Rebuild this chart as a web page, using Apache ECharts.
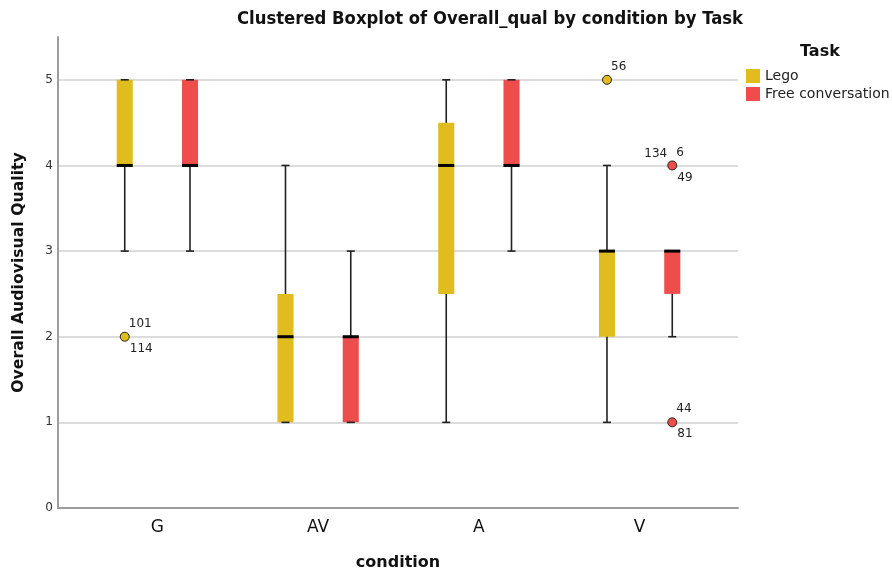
<!DOCTYPE html>
<html><head><meta charset="utf-8">
<script src="https://cdn.jsdelivr.net/npm/echarts@6/dist/echarts.min.js"></script>
<style>html,body{margin:0;padding:0;background:#fff}#c{width:892px;height:572px}</style>
</head><body><div id="c"></div>
<script>
const categories = ['G', 'AV', 'A', 'V'];
const seriesNames = ['Lego', 'Free conversation'];
// [min, Q1, median, Q3, max] per condition
const legoBoxes = [[3, 4, 4, 5, 5], [1, 1, 2, 2.5, 4], [1, 2.5, 4, 4.5, 5], [1, 2, 3, 3, 4]];
const freeBoxes = [[3, 4, 4, 5, 5], [1, 1, 2, 2, 3], [3, 4, 4, 5, 5], [2, 2.5, 3, 3, 3]];
// outliers: [condition index, value]
const legoOutliers = [[0, 2], [3, 5]];
const legoOutlierIds = [['101', '114'], ['56']];
const freeOutliers = [[3, 4], [3, 1]];
const freeOutlierIds = [['6', '49', '134'], ['44', '81']];
const yTicks = [0, 1, 2, 3, 4, 5];

const COLORS = ['#E1BC1F', '#EF4C4C'];
const FONT = 'DejaVu Sans';
const SHIFT = 0.203; // fraction of band between cluster centre and box centre

function boxRender(side) {
  return function (params, api) {
    const cat = api.value(0);
    const bw = api.size([1, 0])[0];
    const boxW = bw * 0.1;
    const capW = bw * 0.05;
    const pt = k => api.coord([cat, api.value(k)]);
    const x = pt(1)[0] + side * bw * SHIFT;
    const yMin = pt(1)[1], yQ1 = pt(2)[1], yMed = pt(3)[1], yQ3 = pt(4)[1], yMax = pt(5)[1];
    const color = api.visual('color');
    return {
      type: 'group', children: [
        { type: 'line', shape: { x1: x, y1: yMin, x2: x, y2: yMax }, style: { stroke: '#222', lineWidth: 1.6 } },
        { type: 'rect', shape: { x: x - boxW / 2, y: yQ3, width: boxW, height: yQ1 - yQ3 }, style: { fill: color } },
        { type: 'line', shape: { x1: x - capW / 2, y1: yMin, x2: x + capW / 2, y2: yMin }, style: { stroke: '#222', lineWidth: 1.6 } },
        { type: 'line', shape: { x1: x - capW / 2, y1: yMax, x2: x + capW / 2, y2: yMax }, style: { stroke: '#222', lineWidth: 1.6 } },
        { type: 'line', shape: { x1: x - boxW / 2, y1: yMed, x2: x + boxW / 2, y2: yMed }, style: { stroke: '#000', lineWidth: 3 } }
      ]
    };
  };
}

function outlierRender(side, ids) {
  return function (params, api) {
    const cat = api.value(0);
    const bw = api.size([1, 0])[0];
    const p = api.coord([cat, api.value(1)]);
    const x = p[0] + side * bw * SHIFT, y = p[1];
    const color = api.visual('color');
    const labels = ids[params.dataIndex] || [];
    const ts = { fontFamily: FONT, fontSize: 12, fill: '#222', textVerticalAlign: 'middle' };
    const children = [
      { type: 'circle', shape: { cx: x, cy: y, r: 4.5 }, style: { fill: color, stroke: '#222', lineWidth: 1 } }
    ];
    const places = [[4, -13, 'left'], [5, 12, 'left'], [-5, -12, 'right']];
    labels.forEach((t, i) => {
      const pl = places[i];
      children.push({ type: 'text', style: Object.assign({ text: t, x: x + pl[0], y: y + pl[1], textAlign: pl[2] }, ts) });
    });
    return { type: 'group', children: children };
  };
}

const chart = echarts.init(document.getElementById('c'), null, { renderer: 'canvas' });
chart.setOption({
  animation: false,
  backgroundColor: '#fff',
  title: [
    { text: 'Clustered Boxplot of Overall_qual by condition by Task', left: 485, top: 5, textAlign: 'center',
      textStyle: { fontFamily: 'DejaVu Sans Condensed', fontWeight: 'bold', fontSize: 18.3, color: '#111' } },
    { text: 'Task', left: 795, top: 39,
      textStyle: { fontFamily: FONT, fontWeight: 'bold', fontSize: 16, color: '#111' } }
  ],
  legend: {
    orient: 'vertical', left: 741, top: 64, itemWidth: 14, itemHeight: 14, itemGap: 4,
    selectedMode: false,
    data: seriesNames.map(n => ({ name: n, icon: 'rect' })),
    textStyle: { fontFamily: FONT, fontSize: 14, color: '#222' }
  },
  grid: [
    { left: 58, right: 154, top: 37, bottom: 64, outerBoundsMode: 'none', containLabel: false },
    { left: 77, right: 172, top: 37, bottom: 64, outerBoundsMode: 'none', containLabel: false }
  ],
  xAxis: [
    { gridIndex: 0, type: 'value', min: 0, max: 1,
      axisLine: { show: true, lineStyle: { color: '#9c9c9c', width: 2 } },
      axisTick: { show: false }, axisLabel: { show: false }, splitLine: { show: false },
      name: 'condition', nameLocation: 'middle', nameGap: 47,
      nameTextStyle: { fontFamily: FONT, fontWeight: 'bold', fontSize: 16, color: '#111' } },
    { gridIndex: 1, type: 'category', data: categories,
      axisLine: { show: false }, axisTick: { show: false }, splitLine: { show: false },
      axisLabel: { fontFamily: FONT, fontSize: 17, color: '#111', margin: 11 } }
  ],
  yAxis: [
    { gridIndex: 0, type: 'value', min: 0, max: 5.5, interval: 1,
      axisLine: { show: true, lineStyle: { color: '#9c9c9c', width: 2 } },
      axisTick: { show: false },
      axisLabel: { showMaxLabel: false, formatter: v => yTicks.includes(v) ? String(v) : '',
        fontFamily: FONT, fontSize: 12, color: '#333', margin: 5 },
      splitLine: { show: true, showMaxLine: false, lineStyle: { color: '#d0d0d0', width: 1.5 } },
      name: 'Overall Audiovisual Quality', nameLocation: 'middle', nameGap: 31,
      nameTextStyle: { fontFamily: FONT, fontWeight: 'bold', fontSize: 15.7, color: '#111' } },
    { gridIndex: 1, type: 'value', min: 0, max: 5.5, show: false }
  ],
  series: [
    { name: seriesNames[0], type: 'custom', xAxisIndex: 1, yAxisIndex: 1, itemStyle: { color: COLORS[0] },
      renderItem: boxRender(-1), encode: { x: 0, y: [1, 2, 3, 4, 5] },
      data: legoBoxes.map((b, i) => [i].concat(b)) },
    { name: seriesNames[1], type: 'custom', xAxisIndex: 1, yAxisIndex: 1, itemStyle: { color: COLORS[1] },
      renderItem: boxRender(1), encode: { x: 0, y: [1, 2, 3, 4, 5] },
      data: freeBoxes.map((b, i) => [i].concat(b)) },
    { name: seriesNames[0], type: 'custom', xAxisIndex: 1, yAxisIndex: 1, itemStyle: { color: COLORS[0] },
      renderItem: outlierRender(-1, legoOutlierIds), encode: { x: 0, y: 1 }, data: legoOutliers, z: 5 },
    { name: seriesNames[1], type: 'custom', xAxisIndex: 1, yAxisIndex: 1, itemStyle: { color: COLORS[1] },
      renderItem: outlierRender(1, freeOutlierIds), encode: { x: 0, y: 1 }, data: freeOutliers, z: 5 }
  ]
});
</script></body></html>
